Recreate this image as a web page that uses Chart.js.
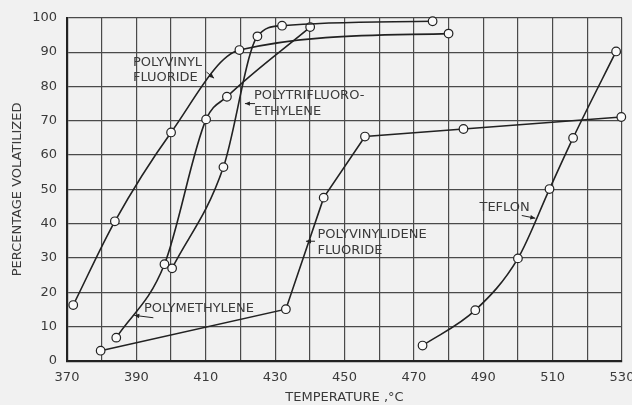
<!DOCTYPE html>
<html>
<head>
<meta charset="utf-8">
<script src="https://cdn.jsdelivr.net/npm/chart.js@4/dist/chart.umd.min.js"></script>
<style>
  html, body { margin: 0; padding: 0; background: #f1f1f1; }
  canvas { display: block; background: #f1f1f1; }
</style>
</head>
<body>
<canvas id="c" width="632" height="405"></canvas>
<script>
// ---- Data (temperature °C, percentage volatilized) ----
const xTickLabels = [370, 390, 410, 430, 450, 470, 490, 510, 530];
const yTickLabels = [0, 10, 20, 30, 40, 50, 60, 70, 80, 90, 100];

const pvfTemp = [371.8, 383.8, 400.0, 419.7, 480.0];
const pvfPct  = [16.3, 40.7, 66.6, 90.6, 95.4];

const ptfeTemp = [400.3, 415.1, 424.9, 432.0, 475.4];   // polytrifluoroethylene
const ptfePct  = [27.0, 56.5, 94.6, 97.7, 99.0];

const pmTemp = [384.2, 398.1, 410.1, 416.1, 440.1];      // polymethylene
const pmPct  = [6.8, 28.2, 70.4, 77.0, 97.3];

const pvdfTemp = [379.7, 433.1, 444.0, 455.9, 484.3, 529.8];
const pvdfPct  = [3.0, 15.1, 47.6, 65.4, 67.6, 71.1];

const teflonTemp = [472.5, 487.7, 500.0, 509.1, 515.9, 528.3];
const teflonPct  = [4.5, 14.8, 29.9, 50.1, 65.0, 90.2];

// Curve labels
const curveLabelText = [
  ['POLYVINYL', 'FLUORIDE'],
  ['POLYTRIFLUORO-', 'ETHYLENE'],
  ['POLYMETHYLENE'],
  ['POLYVINYLIDENE', 'FLUORIDE'],
  ['TEFLON']
];
const curveLabelTemp = [389.0, 423.9, 392.2, 442.2, 488.9];
const curveLabelPct  = [[86.8, 82.7], [77.4, 72.6], [15.3], [36.8, 32.3], [44.8]];
// arrows: [fromTemp, fromPct, toTemp, toPct]
const curveArrows = [
  [410.2, 84.2, 412.4, 82.4],
  [424.2, 75.0, 421.3, 75.0],
  [394.9, 12.6, 389.4, 13.3],
  [441.5, 34.9, 438.9, 34.9],
  [501.1, 42.4, 505.0, 41.6]
];

const INK = '#222';
const TXT = '#3a3a3a';
const BG = '#f1f1f1';
const FONT = 'DejaVu Sans';

function pts(xs, ys) { return xs.map((x, i) => ({ x: x, y: ys[i] })); }

function series(label, xs, ys, smooth) {
  return {
    label: label,
    data: pts(xs, ys),
    borderColor: INK,
    borderWidth: 1.6,
    pointRadius: 4.3,
    pointBorderWidth: 1.2,
    pointBackgroundColor: '#fafafa',
    pointBorderColor: INK,
    fill: false,
    clip: false,
    tension: smooth ? 0.4 : 0,
    cubicInterpolationMode: smooth ? 'monotone' : 'default'
  };
}

const annotPlugin = {
  id: 'annot',
  afterDatasetsDraw(chart) {
    const ctx = chart.ctx;
    const xs = chart.scales.x, ys = chart.scales.y;
    ctx.save();
    ctx.fillStyle = TXT;
    ctx.font = '13px "' + FONT + '"';
    ctx.textAlign = 'left';
    ctx.textBaseline = 'middle';
    curveLabelText.forEach((lines, i) => {
      const px = xs.getPixelForValue(curveLabelTemp[i]);
      lines.forEach((t, j) => {
        ctx.fillText(t, px, ys.getPixelForValue(curveLabelPct[i][j]));
      });
    });
    ctx.strokeStyle = INK;
    ctx.fillStyle = INK;
    ctx.lineWidth = 1;
    curveArrows.forEach(a => {
      const x1 = xs.getPixelForValue(a[0]), y1 = ys.getPixelForValue(a[1]);
      const x2 = xs.getPixelForValue(a[2]), y2 = ys.getPixelForValue(a[3]);
      ctx.beginPath(); ctx.moveTo(x1, y1); ctx.lineTo(x2, y2); ctx.stroke();
      const ang = Math.atan2(y2 - y1, x2 - x1), L = 5, W = 2.2;
      ctx.beginPath();
      ctx.moveTo(x2, y2);
      ctx.lineTo(x2 - L * Math.cos(ang) + W * Math.sin(ang), y2 - L * Math.sin(ang) - W * Math.cos(ang));
      ctx.lineTo(x2 - L * Math.cos(ang) - W * Math.sin(ang), y2 - L * Math.sin(ang) + W * Math.cos(ang));
      ctx.closePath(); ctx.fill();
    });
    ctx.restore();
  }
};

new Chart(document.getElementById('c'), {
  type: 'line',
  data: {
    datasets: [
      series('Polyvinyl fluoride', pvfTemp, pvfPct, true),
      series('Polytrifluoroethylene', ptfeTemp, ptfePct, true),
      series('Polymethylene', pmTemp, pmPct, true),
      series('Polyvinylidene fluoride', pvdfTemp, pvdfPct, false),
      series('Teflon', teflonTemp, teflonPct, true)
    ]
  },
  options: {
    responsive: false,
    animation: false,
    layout: { padding: { left: 0, right: 10, top: 13, bottom: 0 } },
    plugins: { legend: { display: false }, tooltip: { enabled: false } },
    scales: {
      x: {
        type: 'linear',
        min: 370, max: 530,
        afterFit(s) { s.height = 44; s.paddingLeft = 0; s.paddingRight = 0; },
        grid: { color: '#4a4a4a', lineWidth: 1.2, drawTicks: false },
        border: { color: INK, width: 2.2 },
        ticks: {
          stepSize: 10, autoSkip: false, maxRotation: 0, padding: 9,
          color: TXT, font: { family: FONT, size: 13 },
          callback: v => xTickLabels.includes(v) ? String(v) : ''
        },
        title: {
          display: true, text: 'TEMPERATURE ,°C', color: TXT,
          font: { family: FONT, size: 13 }, padding: { top: 0, bottom: 0 }
        }
      },
      y: {
        type: 'linear',
        min: 0, max: 100,
        afterFit(s) { s.width = 67; },
        grid: { color: '#4a4a4a', lineWidth: 1.2, drawTicks: false },
        border: { color: INK, width: 2.2 },
        ticks: {
          stepSize: 10, autoSkip: false, padding: 10,
          color: TXT, font: { family: FONT, size: 13 },
          callback: v => yTickLabels.includes(v) ? String(v) : ''
        },
        title: {
          display: true, text: 'PERCENTAGE VOLATILIZED', color: TXT,
          font: { family: FONT, size: 13 }, padding: { top: 10, bottom: 0 }
        }
      }
    }
  },
  plugins: [annotPlugin]
});
</script>
</body>
</html>
